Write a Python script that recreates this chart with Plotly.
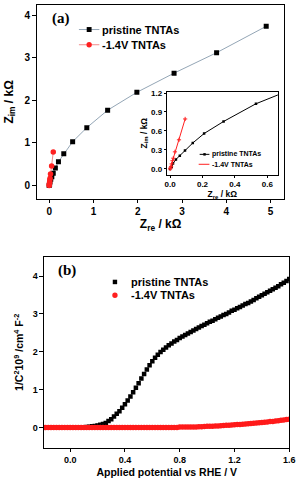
import plotly.graph_objects as go

# ---------------- Panel (a): Nyquist plot ----------------
pristine_zre = [4.90, 3.78, 2.82, 1.98, 1.32, 0.85, 0.53, 0.33, 0.21, 0.14, 0.092, 0.06, 0.036, 0.018, 0.01, 0.0]
pristine_zim = [3.74, 3.12, 2.64, 2.19, 1.77, 1.36, 1.03, 0.75, 0.56, 0.41, 0.29, 0.21, 0.15, 0.085, 0.03, 0.0]
reduced_zre = [0.093, 0.055, 0.03, 0.02, 0.015, 0.01, 0.006, 0.003, 0.0]
reduced_zim = [0.79, 0.46, 0.27, 0.17, 0.13, 0.08, 0.04, 0.015, 0.0]

# ---------------- Panel (b): Mott-Schottky ----------------
potential = [-0.20, -0.18, -0.16, -0.14, -0.12, -0.10, -0.08, -0.06, -0.04, -0.02,
             0.00, 0.02, 0.04, 0.06, 0.08, 0.10, 0.12, 0.14, 0.16, 0.18,
             0.20, 0.22, 0.24, 0.26, 0.28, 0.30, 0.32, 0.34, 0.36, 0.38,
             0.40, 0.42, 0.44, 0.46, 0.48, 0.50, 0.52, 0.54, 0.56, 0.58,
             0.60, 0.62, 0.64, 0.66, 0.68, 0.70, 0.72, 0.74, 0.76, 0.78,
             0.80, 0.82, 0.84, 0.86, 0.88, 0.90, 0.92, 0.94, 0.96, 0.98,
             1.00, 1.02, 1.04, 1.06, 1.08, 1.10, 1.12, 1.14, 1.16, 1.18,
             1.20, 1.22, 1.24, 1.26, 1.28, 1.30, 1.32, 1.34, 1.36, 1.38,
             1.40, 1.42, 1.44, 1.46, 1.48, 1.50, 1.52, 1.54, 1.56, 1.58, 1.60]
pristine_ms = [0.00, 0.00, 0.00, 0.00, 0.00, 0.00, 0.00, 0.00, 0.00, 0.00,
               0.00, 0.00, 0.00, 0.00, 0.00, 0.00, 0.01, 0.02, 0.03, 0.04,
               0.05, 0.07, 0.09, 0.12, 0.17, 0.22, 0.29, 0.36, 0.43, 0.52,
               0.61, 0.71, 0.82, 0.93, 1.05, 1.17, 1.29, 1.41, 1.53, 1.64,
               1.75, 1.84, 1.92, 1.99, 2.05, 2.11, 2.17, 2.22, 2.27, 2.31,
               2.36, 2.40, 2.44, 2.48, 2.52, 2.56, 2.60, 2.64, 2.68, 2.71,
               2.75, 2.79, 2.82, 2.86, 2.90, 2.93, 2.97, 3.00, 3.04, 3.08,
               3.11, 3.15, 3.18, 3.22, 3.26, 3.29, 3.33, 3.37, 3.41, 3.45,
               3.49, 3.53, 3.57, 3.61, 3.65, 3.69, 3.73, 3.78, 3.82, 3.87, 3.92]
reduced_ms = [0.00, 0.00, 0.00, 0.00, 0.00, 0.00, 0.00, 0.00, 0.00, 0.00,
              0.00, 0.00, 0.00, 0.00, 0.00, 0.00, 0.00, 0.00, 0.00, 0.00,
              0.00, 0.00, 0.00, 0.00, 0.00, 0.00, 0.00, 0.00, 0.00, 0.00,
              0.00, 0.00, 0.00, 0.00, 0.00, 0.00, 0.00, 0.00, 0.00, 0.00,
              0.00, 0.00, 0.00, 0.00, 0.00, 0.00, 0.00, 0.00, 0.00, 0.00,
              0.01, 0.01, 0.01, 0.01, 0.01, 0.015, 0.015, 0.02, 0.02, 0.025,
              0.03, 0.03, 0.035, 0.04, 0.04, 0.045, 0.05, 0.055, 0.06, 0.065,
              0.07, 0.075, 0.08, 0.085, 0.09, 0.10, 0.105, 0.11, 0.12, 0.125,
              0.13, 0.14, 0.145, 0.155, 0.16, 0.17, 0.18, 0.19, 0.20, 0.21, 0.22]

series_labels = ["pristine TNTAs", "-1.4V TNTAs"]

# minor tick positions
minor_a_x = [0.5, 1.5, 2.5, 3.5, 4.5]
minor_a_y = [0.5, 1.5, 2.5, 3.5]
minor_in_x = [0.1, 0.3, 0.5]
minor_in_y = [0.15, 0.45, 0.75, 1.05]
minor_b_x = [0.2, 0.6, 1.0, 1.4]
minor_b_y = [-0.5, 0.5, 1.5, 2.5, 3.5]

RANGE_A_X = [-0.28, 5.31]
RANGE_A_Y = [-0.31, 4.24]
RANGE_IN_X = [-0.02, 0.665]
RANGE_IN_Y = [-0.09, 1.22]
RANGE_B_X = [-0.19, 1.6]
RANGE_B_Y = [-0.53, 4.5]

W, H = 304, 482
FONT = "Liberation Sans"
BLACK = "black"
GREYLINE = "#94a6b6"
PINKLINE = "#f28b8b"
RED = "#ff2020"


def xd(a, b):
    return [a / W, b / W]


def yd(top, bottom):
    return [1 - bottom / H, 1 - top / H]


def X(px):
    return px / W


def Y(py):
    return 1 - py / H


fig = go.Figure()

fig.add_trace(go.Scatter(x=pristine_zre, y=pristine_zim, mode="lines+markers", name=series_labels[0],
                         line=dict(color=GREYLINE, width=1),
                         marker=dict(symbol="square", size=5, color="black"),
                         xaxis="x", yaxis="y", showlegend=False))
fig.add_trace(go.Scatter(x=reduced_zre, y=reduced_zim, mode="lines+markers", name=series_labels[1],
                         line=dict(color=PINKLINE, width=1),
                         marker=dict(symbol="circle", size=5.5, color=RED),
                         xaxis="x", yaxis="y", showlegend=False))
fig.add_trace(go.Scatter(x=pristine_zre, y=pristine_zim, mode="lines+markers", name=series_labels[0],
                         line=dict(color="black", width=1),
                         marker=dict(symbol="square", size=2.5, color="black"),
                         xaxis="x2", yaxis="y2", showlegend=False))
fig.add_trace(go.Scatter(x=reduced_zre, y=reduced_zim, mode="lines+markers", name=series_labels[1],
                         line=dict(color=RED, width=1),
                         marker=dict(symbol="cross-thin", size=3, color=RED, line=dict(color=RED, width=1)),
                         xaxis="x2", yaxis="y2", showlegend=False))
fig.add_trace(go.Scatter(x=potential, y=pristine_ms, mode="markers", name=series_labels[0],
                         marker=dict(symbol="square", size=4.5, color="black"),
                         xaxis="x3", yaxis="y3", showlegend=False))
fig.add_trace(go.Scatter(x=potential, y=reduced_ms, mode="markers", name=series_labels[1],
                         marker=dict(symbol="circle", size=5.5, color="#ff1a1a"),
                         xaxis="x3", yaxis="y3", showlegend=False))


def axis(fontsize, ticklen=3.5, lw=1.4):
    return dict(showline=True, linecolor=BLACK, linewidth=lw, mirror=True,
                ticks="outside", ticklen=ticklen, tickwidth=1, tickcolor=BLACK,
                showgrid=False, zeroline=False,
                tickfont=dict(family=FONT, size=fontsize, color="black", weight="bold"))


def minor_axis(vals, rng, overlay, anchor, ticklen=2):
    return dict(overlaying=overlay, anchor=anchor, range=rng, tickmode="array", tickvals=vals,
                showticklabels=False, showline=False, showgrid=False, zeroline=False,
                ticks="outside", ticklen=ticklen, tickwidth=1, tickcolor=BLACK)


def title(text, size, standoff):
    return dict(text=text, font=dict(family=FONT, size=size, weight="bold", color="black"), standoff=standoff)


fig.update_layout(
    template="simple_white",
    width=W, height=H,
    margin=dict(l=0, r=0, t=0, b=0),
    paper_bgcolor="white", plot_bgcolor="white",
    font=dict(family=FONT, color="black"),
    showlegend=False,
    xaxis=dict(**axis(10), domain=xd(35.7, 290), range=RANGE_A_X,
               tickmode="linear", tick0=0, dtick=1,
               title=title("Z<sub>re</sub> / kΩ", 12, 2), anchor="y"),
    yaxis=dict(**axis(10), domain=yd(2, 197), range=RANGE_A_Y,
               tickmode="linear", tick0=0, dtick=1,
               title=title("Z<sub>im</sub> / kΩ", 12, 8), anchor="x"),
    xaxis2=dict(**axis(8, ticklen=2, lw=1), domain=xd(169.3, 283.3),
                range=RANGE_IN_X, tickmode="linear", tick0=0, dtick=0.2, tickformat=".1f",
                title=title("Z<sub>re</sub> / kΩ", 8.5, 2), anchor="y2"),
    yaxis2=dict(**axis(8, ticklen=2, lw=1), domain=yd(89.3, 172.7),
                range=RANGE_IN_Y, tickmode="linear", tick0=0, dtick=0.3, tickformat=".1f",
                title=title("Z<sub>im</sub> / kΩ", 8.5, 2), anchor="x2"),
    xaxis3=dict(**axis(9), domain=xd(43.3, 295), range=RANGE_B_X,
                tickmode="linear", tick0=0, dtick=0.4, tickformat=".1f",
                title=title("Applied potential vs RHE / V", 10.5, 4), anchor="y3"),
    yaxis3=dict(**axis(9), domain=yd(255.7, 447.3), range=RANGE_B_Y,
                tickmode="linear", tick0=0, dtick=1,
                title=title("1/C<sup>2</sup>10<sup>9</sup> /cm<sup>4</sup> F<sup>-2</sup>", 10.5, 6),
                anchor="x3"),
    xaxis4=minor_axis(minor_a_x, RANGE_A_X, "x", "y"),
    yaxis4=minor_axis(minor_a_y, RANGE_A_Y, "y", "x"),
    xaxis5=minor_axis(minor_in_x, RANGE_IN_X, "x2", "y2", 1.5),
    yaxis5=minor_axis(minor_in_y, RANGE_IN_Y, "y2", "x2", 1.5),
    xaxis6=minor_axis(minor_b_x, RANGE_B_X, "x3", "y3"),
    yaxis6=minor_axis(minor_b_y, RANGE_B_Y, "y3", "x3"),
)

annotations = [
    dict(text="(a)", x=X(49), y=Y(16), xanchor="left", yanchor="middle",
         font=dict(family="Liberation Serif", size=15, weight="bold", color="black")),
    dict(text="(b)", x=X(55), y=Y(269), xanchor="left", yanchor="middle",
         font=dict(family="Liberation Serif", size=15, weight="bold", color="black")),
]
shapes = []


def legend_item(label, xtext, ytext, size, line_color=None, x0=None, x1=None,
                marker=None, mcolor="black", msize=5):
    annotations.append(dict(text=label, x=X(xtext), y=Y(ytext), xanchor="left", yanchor="middle",
                            font=dict(family=FONT, size=size, weight="bold", color="black")))
    if line_color:
        shapes.append(dict(type="line", xref="paper", yref="paper", x0=X(x0), x1=X(x1),
                           y0=Y(ytext), y1=Y(ytext), opacity=1, line=dict(color=line_color, width=1)))
    if marker:
        cx = (x0 + x1) / 2 if x0 is not None else xtext - 14
        r = msize / 2
        shapes.append(dict(type="rect" if marker == "square" else "circle", xref="paper", yref="paper",
                           x0=X(cx - r), x1=X(cx + r), y0=Y(ytext + r), y1=Y(ytext - r), opacity=1,
                           fillcolor=mcolor, line=dict(width=0)))


legend_item(series_labels[0], 101, 26.7, 11, GREYLINE, 79, 100, "square", "black", 5)
legend_item(series_labels[1], 101, 42, 11, PINKLINE, 79, 100, "circle", RED, 5.5)
legend_item(series_labels[0], 213.5, 152.3, 7, "black", 203, 213, "square", "black", 2.5)
legend_item(series_labels[1], 213.5, 162.3, 7, RED, 202, 213, None)
legend_item(series_labels[0], 130, 280.7, 11, None, None, None, "square", "black", 4.5)
legend_item(series_labels[1], 130, 294, 11, None, None, None, "circle", RED, 5.5)

for a in annotations:
    a.update(xref="paper", yref="paper", showarrow=False)
fig.update_layout(annotations=annotations, shapes=shapes)

fig.write_html("out.html", config={"displayModeBar": False},
               post_script="document.body.style.margin='0px';")
